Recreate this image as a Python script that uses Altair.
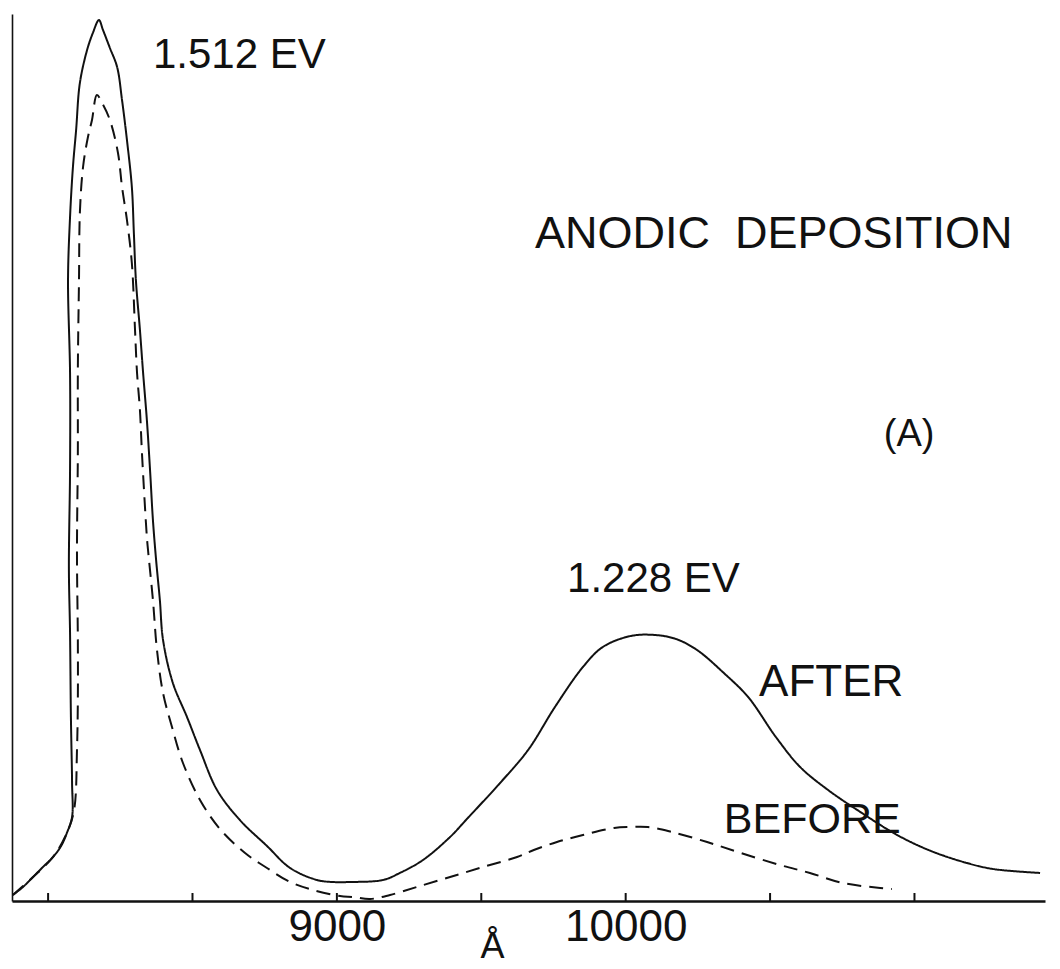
import altair as alt
import pandas as pd

# --- data (wavelength in Å, intensity in arbitrary units) ---
after_wavelength = [7878, 7913, 7948, 7982, 8017, 8045, 8065, 8083, 8083, 8079, 8076, 8072, 8076, 8076,
                    8069, 8076, 8086, 8097, 8110, 8135, 8155, 8176, 8190, 8214, 8239, 8256, 8273, 8290,
                    8297, 8304, 8318, 8329, 8342, 8353, 8363, 8374, 8387, 8398, 8432, 8481, 8526, 8585,
                    8664, 8758, 8838, 8931, 8986, 9045, 9160, 9218, 9298, 9392, 9450, 9565, 9662, 9755,
                    9852, 9921, 10018, 10101, 10174, 10247, 10340, 10424, 10520, 10604, 10701, 10818,
                    10940, 11057, 11182, 11272, 11435]
after_intensity = [0.68, 1.58, 2.71, 3.83, 4.96, 6.20, 7.67, 9.47, 13.30, 20.74, 30.21, 37.66, 48.59, 59.53,
                   70.01, 77.11, 82.75, 86.92, 92.22, 95.94, 97.86, 99.32, 98.20, 96.17, 94.02, 90.30, 85.80,
                   80.50, 75.31, 70.01, 64.37, 59.53, 54.23, 48.59, 42.95, 38.44, 33.93, 29.43, 24.58, 20.74,
                   17.02, 12.51, 9.13, 6.20, 3.72, 2.37, 2.14, 2.14, 2.37, 3.16, 4.62, 7.22, 9.24, 13.30,
                   17.02, 21.87, 26.38, 28.64, 29.88, 29.99, 29.54, 28.30, 25.70, 23.00, 18.49, 15.11, 12.51,
                   9.92, 7.44, 5.64, 4.28, 3.61, 3.16]

before_wavelength = [7878, 7948, 8017, 8065, 8090, 8100, 8103, 8103, 8100, 8103, 8103, 8107, 8110, 8121,
                     8138, 8152, 8169, 8187, 8214, 8242, 8256, 8273, 8290, 8301, 8308, 8318, 8325, 8342,
                     8346, 8363, 8377, 8398, 8429, 8467, 8526, 8595, 8682, 8758, 8838, 8917, 9011, 9056,
                     9115, 9184, 9277, 9392, 9506, 9624, 9682, 9762, 9852, 9960, 10015, 10077, 10160,
                     10282, 10399, 10534, 10638, 10752, 10881, 10922]
before_intensity = [0.68, 2.71, 4.96, 7.67, 10.26, 17.02, 22.66, 29.43, 39.23, 50.51, 59.86, 70.01, 77.56,
                    82.75, 86.13, 88.05, 90.87, 89.97, 88.05, 84.33, 80.50, 76.78, 71.93, 64.37, 59.53,
                    55.36, 50.51, 41.04, 39.57, 33.93, 28.30, 23.45, 19.62, 15.56, 11.39, 8.12, 5.41, 3.72,
                    2.14, 1.24, 0.56, 0.45, 0.23, 0.68, 1.58, 2.71, 3.83, 4.96, 5.75, 6.65, 7.44, 8.23,
                    8.34, 8.34, 7.78, 6.65, 5.41, 4.06, 3.16, 2.03, 1.47, 1.35]

tick_wavelengths = [8000, 8500, 9000, 9500, 10000, 10500, 11000]
labelled_wavelengths = [9000, 10000]

note_text = ["1.512 EV", "ANODIC\u00a0\u00a0DEPOSITION", "(A)", "1.228 EV", "AFTER", "BEFORE"]
note_wavelength = [8363, 9686, 10894, 9797, 10462, 10340]
note_intensity = [95.4, 75.2, 52.5, 36.3, 24.6, 9.1]
note_size = [42, 45, 38, 42, 44, 43]

# --- tables ---
curves = pd.concat([
    pd.DataFrame({"wl": after_wavelength, "I": after_intensity, "series": "AFTER",
                  "idx": range(len(after_wavelength))}),
    pd.DataFrame({"wl": before_wavelength, "I": before_intensity, "series": "BEFORE",
                  "idx": range(len(before_wavelength))}),
])
ticks = pd.DataFrame({"wl": tick_wavelengths})
notes = pd.DataFrame({"text": note_text, "wl": note_wavelength, "I": note_intensity, "fs": note_size})

FONT = "Liberation Sans"
xscale = alt.Scale(domain=[7875, 11452], nice=False, zero=False)
yscale = alt.Scale(domain=[0, 100], nice=False, zero=False)

lines = alt.Chart(curves).mark_line(color="#111111", strokeWidth=2.0, interpolate="catmull-rom").encode(
    x=alt.X("wl:Q", scale=xscale,
            axis=alt.Axis(values=labelled_wavelengths, format="d", ticks=False, tickSize=0, grid=False,
                          domainColor="#111111", domainWidth=2.6,
                          labelFont=FONT, labelFontSize=44, labelColor="#111111", labelPadding=4,
                          title="Å", titleFont=FONT, titleFontSize=36, titleFontWeight="normal",
                          titleColor="#111111", titleX=480, titleY=56, titleBaseline="alphabetic")),
    y=alt.Y("I:Q", scale=yscale,
            axis=alt.Axis(labels=False, ticks=False, grid=False, title=None,
                          domainColor="#111111", domainWidth=1.6)),
    order="idx:Q",
    strokeDash=alt.StrokeDash("series:N", scale=alt.Scale(domain=["AFTER", "BEFORE"],
                                                          range=[[1, 0], [14, 8]]), legend=None),
)

tick_rules = alt.Chart(ticks).mark_rule(color="#111111", strokeWidth=2).encode(
    x=alt.X("wl:Q", scale=xscale),
    y=alt.datum(0),
    y2=alt.datum(0.9),
)

labels = alt.Chart(notes).mark_text(align="left", baseline="middle", font=FONT, color="#111111").encode(
    x=alt.X("wl:Q", scale=xscale),
    y=alt.Y("I:Q", scale=yscale),
    text="text:N",
    size=alt.Size("fs:Q", scale=None, legend=None),
)

chart = alt.layer(lines, tick_rules, labels).properties(
    width=1033, height=887,
    autosize=alt.AutoSizeParams(type="none"),
    padding={"left": 12, "top": 14, "right": 15, "bottom": 68},
    background="white",
).configure_view(stroke=None)

chart.save("out.html", embed_options={"renderer": "svg", "actions": False})
